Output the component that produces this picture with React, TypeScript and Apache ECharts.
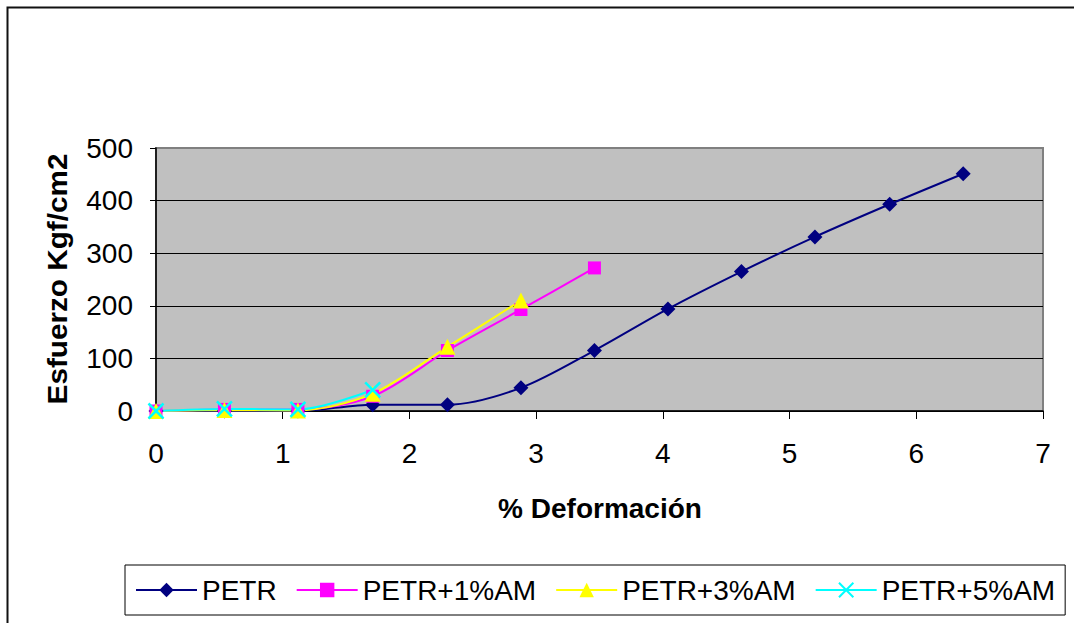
import React, { useEffect, useRef } from "react";
import * as echarts from "echarts";

// % deformation readings shared by all specimens
const deformation = [0, 0.54, 1.12, 1.71, 2.3, 2.88, 3.46, 4.04, 4.62, 5.2, 5.79, 6.37];

// Stress (Kgf/cm2) for each mix
const petr = [0, 0, 0, 12, 12, 44, 115, 194, 265, 331, 393, 451];
const petr1 = [0, 3, 3, 28, 115, 193, 272];
const petr3 = [0, 2, 1, 33, 122, 210];
const petr5 = [0, 4, 3, 40];

const seriesNames = ["PETR", "PETR+1%AM", "PETR+3%AM", "PETR+5%AM"];
const seriesColors = ["#000080", "#FF00FF", "#FFFF00", "#00FFFF"];

const xTicks = [0, 1, 2, 3, 4, 5, 6, 7];
const yTicks = [0, 100, 200, 300, 400, 500];

const FONT = 'Arial, "Liberation Sans", sans-serif';

const pairs = (vals: number[]) => vals.map((v, i) => [deformation[i], v]);

export default function App() {
  const ref = useRef<HTMLDivElement>(null);

  useEffect(() => {
    if (!ref.current) return;
    const chart = echarts.init(ref.current, null, { renderer: "svg" });

    const symbols = ["diamond", "rect", "triangle", "path://M0,0L10,10M10,0L0,10"];
    const sizes = [15, 13, 16, 15];
    const values = [petr, petr1, petr3, petr5];

    chart.setOption({
      animation: false,
      backgroundColor: "#fff",
      textStyle: { fontFamily: FONT },
      grid: {
        left: 156,
        top: 148,
        width: 887,
        height: 263,
        show: true,
        backgroundColor: "#C0C0C0",
        borderColor: "#808080",
        borderWidth: 2,
      },
      xAxis: {
        type: "value",
        min: xTicks[0],
        max: xTicks[xTicks.length - 1],
        interval: 1,
        axisLine: { show: true, onZero: false, lineStyle: { color: "#000", width: 1.5 } },
        axisTick: { show: true, inside: false, length: 8, lineStyle: { color: "#000", width: 1 } },
        axisLabel: { fontSize: 28, color: "#000", margin: 28, fontFamily: FONT },
        splitLine: { show: false },
      },
      yAxis: {
        type: "value",
        min: yTicks[0],
        max: yTicks[yTicks.length - 1],
        interval: 100,
        axisLine: { show: true, onZero: false, lineStyle: { color: "#000", width: 1.5 } },
        axisTick: { show: true, inside: false, length: 6, lineStyle: { color: "#000", width: 1 } },
        axisLabel: { fontSize: 28, color: "#000", margin: 23, fontFamily: FONT },
        splitLine: {
          show: true,
          lineStyle: { color: ["#000", "#000", "#000", "#000", "#000", "#808080"], width: 1 },
        },
      },
      legend: {
        left: 125,
        top: 565,
        orient: "horizontal",
        itemWidth: 61,
        itemHeight: 18,
        itemGap: 19,
        padding: [11, 10, 11, 10],
        borderColor: "#000",
        borderWidth: 1,
        backgroundColor: "#fff",
        textStyle: { fontSize: 28, color: "#000", fontFamily: FONT },
        data: seriesNames,
      },
      graphic: [
        {
          type: "rect",
          z: -10,
          shape: { x: 7.5, y: 7.5, width: 1200, height: 800 },
          style: { fill: "none", stroke: "#111", lineWidth: 2 },
        },
        {
          type: "text",
          x: 57,
          y: 279,
          rotation: Math.PI / 2,
          scaleX: 1.1,
          style: {
            text: "Esfuerzo Kgf/cm2",
            font: `bold 27px ${FONT}`,
            fill: "#000",
            align: "center",
            verticalAlign: "middle",
          },
        },
        {
          type: "text",
          x: 600,
          y: 508,
          style: {
            text: "% Deformación",
            font: `bold 28px ${FONT}`,
            fill: "#000",
            align: "center",
            verticalAlign: "middle",
          },
        },
      ],
      series: values.map((vals, i) => ({
        name: seriesNames[i],
        type: "line",
        data: pairs(vals),
        smooth: 0.3,
        symbol: symbols[i],
        symbolSize: sizes[i],
        showAllSymbol: true,
        lineStyle: { color: seriesColors[i], width: 2 },
        itemStyle:
          i === 3
            ? { color: seriesColors[i], borderColor: seriesColors[i], borderWidth: 2.5 }
            : { color: seriesColors[i] },
        emphasis: { disabled: true },
      })),
    });

    return () => chart.dispose();
  }, []);

  return (
    <div
      ref={ref}
      style={{ position: "absolute", left: 0, top: 0, width: 1074, height: 623 }}
    />
  );
}
